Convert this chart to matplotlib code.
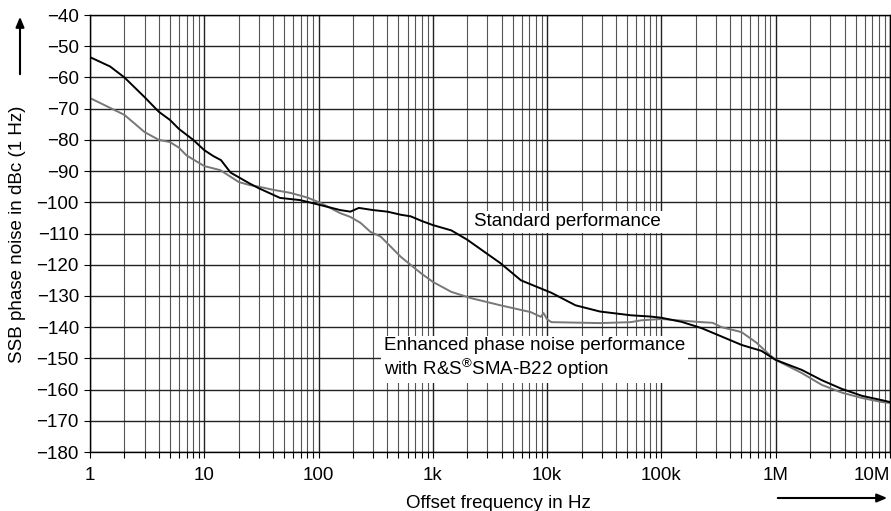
import numpy as np
import matplotlib
matplotlib.use("Agg")
import matplotlib.pyplot as plt
from matplotlib.ticker import FixedLocator, LogLocator, NullFormatter

plt.rcParams['font.family'] = ['Liberation Sans', 'DejaVu Sans']
plt.rcParams['mathtext.fontset'] = 'custom'
plt.rcParams['mathtext.rm'] = 'Liberation Sans'

### Données
f_std = [1, 1.5, 2, 3, 4, 5, 6, 8, 10, 12, 14, 17, 25, 30, 46, 69, 104, 155,
         190, 225, 300, 400, 525, 640, 800, 1000, 1450, 2000, 3900, 5900,
         10900, 17700, 29000, 54000, 80000, 1e5, 1.5e5, 2.24e5, 3.36e5,
         5.03e5, 7.5e5, 1e6, 1.69e6, 2.53e6, 3.8e6, 5.68e6, 8.5e6, 1e7]
db_std = [-53.5, -56.5, -60, -66.3, -71, -73.6, -76.5, -80, -83.3, -85.2,
          -86.5, -90.5, -94, -95.5, -98.6, -99.3, -100.9, -102.5, -103,
          -101.8, -102.5, -103, -104, -104.5, -106, -107.3, -109, -112,
          -119.5, -125, -129, -133, -135, -136.2, -136.6, -137, -138.3,
          -140.3, -143, -145.7, -147.6, -150.5, -153.7, -157, -159.8, -162,
          -163.4, -164]

f_enh = [1, 2, 3, 4, 5, 6, 7, 10, 13.8, 20, 25, 30, 40, 57, 80, 104, 155,
         190, 233, 285, 350, 525, 785, 1000, 1450, 2150, 3900, 7200, 8800,
         9300, 10000, 10900, 29000, 54000, 66800, 1e5, 2.24e5, 2.8e5,
         3.36e5, 5.03e5, 6.8e5, 8.5e5, 1e6, 1.69e6, 2.53e6, 3.8e6, 5.68e6,
         8.5e6, 1e7]
db_enh = [-66.6, -72, -77.5, -80, -80.7, -82.5, -85, -88.4, -89.7, -93.5,
          -94.5, -95, -96, -97, -98.5, -100.2, -103.5, -104.7, -106.6,
          -109.5, -111, -117.5, -122.7, -125.5, -128.7, -130.7, -133,
          -135.2, -136.7, -135.5, -137.5, -138.4, -138.7, -138.4, -137.8,
          -137.4, -138.4, -138.6, -140, -141.6, -145, -148.3, -150.5,
          -154.7, -158.5, -161, -162.7, -164, -164.3]

x_ticks = [1, 10, 100, 1e3, 1e4, 1e5, 1e6, 1e7]
x_labels = ["1", "10", "100", "1k", "10k", "100k", "1M", "10M"]
y_ticks = list(range(-180, -39, 10))

FS = 13.5
W, H = 891, 511
fig = plt.figure(figsize=(W / 100, H / 100), dpi=100)
# axes en pixels : gauche 90, droite 890, haut 15, bas 452
ax = fig.add_axes([90 / W, 1 - 452 / H, 800 / W, 437 / H])

ax.set_xscale("log")
ax.set_xlim(1, 1e7)
ax.set_ylim(-180, -40)

ax.xaxis.set_major_locator(FixedLocator(x_ticks))
ax.set_xticklabels(x_labels)
ax.xaxis.set_minor_locator(LogLocator(base=10, subs=np.arange(2, 10)))
ax.xaxis.set_minor_formatter(NullFormatter())
ax.set_yticks(y_ticks)

ax.grid(which="major", color="#222222", lw=1.0)
ax.grid(which="minor", axis="x", color="#555555", lw=0.8)
ax.set_axisbelow(True)

ax.tick_params(which="both", direction="out", length=4, width=0.8,
               labelsize=FS, color="black")
ax.tick_params(axis="x", pad=7)
ax.tick_params(axis="y", pad=4)
for t in ax.get_xticklabels()[-1:]:
    t.set_ha("right")

for s in ax.spines.values():
    s.set_color("black")
    s.set_linewidth(1.0)

ax.plot(f_enh, db_enh, color="#777777", lw=1.4)
ax.plot(f_std, db_std, color="black", lw=1.4)

ax.text(2290, -106.3, "Standard performance", fontsize=FS, va="center",
        ha="left", bbox=dict(facecolor="white", edgecolor="none", pad=2))
ax.text(372, -150.1,
        "Enhanced phase noise performance\nwith R&S$^{\\circledR}$SMA-B22 option",
        fontsize=FS, va="center", ha="left", linespacing=1.1,
        bbox=dict(facecolor="white", edgecolor="none", pad=2))

# libellés et flèches des axes
fig.text(18 / W, 1 - 234 / H, "SSB phase noise in dBc (1 Hz)", rotation=90,
         fontsize=FS, ha="center", va="center")
fig.text(498 / W, 1 - 503 / H, "Offset frequency in Hz", fontsize=FS,
         ha="center", va="center")
fig.add_artist(matplotlib.patches.FancyArrowPatch(
    (20 / W, 1 - 77 / H), (20 / W, 1 - 14 / H), transform=fig.transFigure,
    arrowstyle="-|>,head_length=6,head_width=2.5", color="black", lw=1.5))
fig.add_artist(matplotlib.patches.FancyArrowPatch(
    (775 / W, 1 - 498 / H), (890 / W, 1 - 498 / H), transform=fig.transFigure,
    arrowstyle="-|>,head_length=6,head_width=2.5", color="black", lw=1.5))

fig.savefig("out.png", dpi=100)
